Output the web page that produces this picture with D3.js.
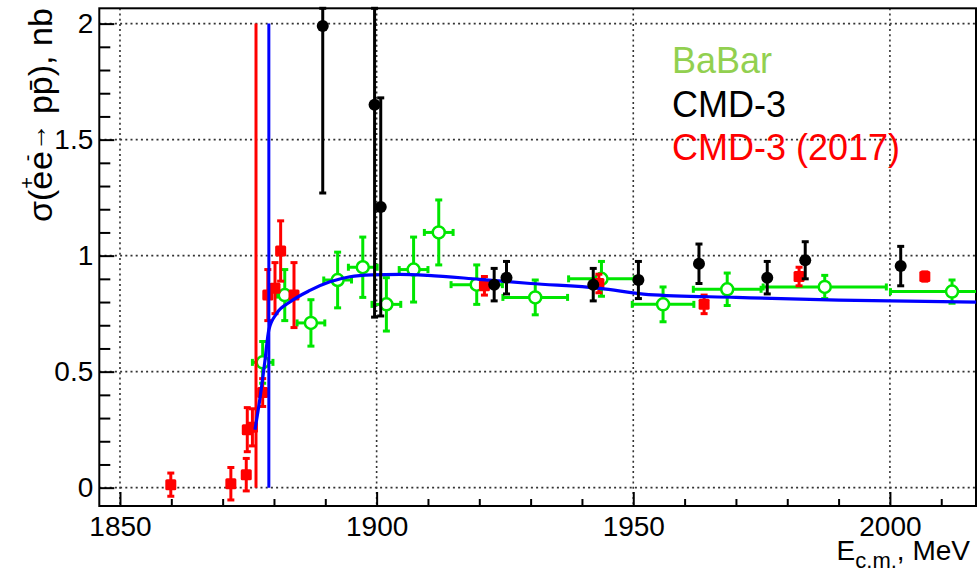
<!DOCTYPE html>
<html>
<head>
<meta charset="utf-8">
<script src="https://cdn.jsdelivr.net/npm/d3@7"></script>
<style>
  body { margin: 0; background: #fff; }
  svg { display: block; font-family: "Liberation Sans", Arial, sans-serif; }
</style>
</head>
<body>
<svg id="chart" width="979" height="574"></svg>
<script>
// BaBar: energy, cross section, x error, y error
const babarE   = [1877.8, 1882.1, 1887.2, 1892.4, 1897.3, 1901.9, 1907.2, 1912.1, 1919.5, 1930.9, 1943.8, 1955.8, 1968.3, 1987.3, 2012.1];
const babarS   = [0.54, 0.83, 0.71, 0.895, 0.95, 0.79, 0.94, 1.10, 0.875, 0.82, 0.90, 0.79, 0.855, 0.865, 0.845];
const babarDE  = [2, 1.5, 2.7, 2.7, 2.8, 2.8, 2.8, 2.8, 5, 6.3, 6.4, 6, 6.6, 12, 12];
const babarDS  = [0.09, 0.11, 0.10, 0.12, 0.13, 0.115, 0.14, 0.14, 0.085, 0.075, 0.075, 0.075, 0.07, 0.05, 0.05];

// CMD-3
const cmdE  = [1889.5, 1899.6, 1900.8, 1922.9, 1925.3, 1942.2, 1951.0, 1962.8, 1976.1, 1983.5, 2002.1];
const cmdS  = [1.99, 1.65, 1.21, 0.875, 0.905, 0.875, 0.895, 0.965, 0.905, 0.98, 0.955];
const cmdDS = [0.72, 0.915, 0.47, 0.07, 0.07, 0.07, 0.08, 0.085, 0.07, 0.08, 0.085];

// CMD-3 (2017)
const cmd17E  = [1859.9, 1871.6, 1874.6, 1874.8, 1875.8, 1877.8, 1878.8, 1880.2, 1881.3, 1883.9, 1921.0, 1943.3, 1963.8, 1982.3, 2006.8];
const cmd17S  = [0.013, 0.017, 0.056, 0.25, 0.26, 0.41, 0.83, 0.86, 1.02, 0.83, 0.87, 0.88, 0.79, 0.91, 0.91];
const cmd17DS = [0.05, 0.07, 0.07, 0.095, 0.08, 0.06, 0.11, 0.11, 0.13, 0.14, 0.04, 0.04, 0.04, 0.04, 0.02];

// fit curve
const fitE = [1876.3, 1877.3, 1878.2, 1879.0, 1880.5, 1883.1, 1887.0, 1890.9, 1894.8, 1899, 1904.5, 1910, 1920, 1930, 1943.5, 1953, 1970, 1990, 2016.8];
const fitS = [0.25, 0.39, 0.54, 0.68, 0.75, 0.80, 0.85, 0.887, 0.909, 0.917, 0.919, 0.915, 0.898, 0.88, 0.859, 0.832, 0.82, 0.808, 0.80];

// thresholds (vertical lines)
const thrE = [1876.5, 1879.0];
const thrColors = ["#ff0000", "#0000ff"];

const xTicks = [1850, 1900, 1950, 2000];
const xMinor = [1860, 1870, 1880, 1890, 1910, 1920, 1930, 1940, 1960, 1970, 1980, 1990, 2010];
const yTicks = [0, 0.5, 1, 1.5, 2];
const yTickLabels = ["0", "0.5", "1", "1.5", "2"];
const yMinor = [0.1, 0.2, 0.3, 0.4, 0.6, 0.7, 0.8, 0.9, 1.1, 1.2, 1.3, 1.4, 1.6, 1.7, 1.8, 1.9];

const legendNames = ["BaBar", "CMD-3", "CMD-3 (2017)"];
const legendColors = ["#92d050", "#000000", "#ff0000"];

const pLeft = 99.3, pRight = 976, pTop = 8.3, pBottom = 506;
const svg = d3.select("#chart");

const x = d3.scaleLinear().domain([1845.97, 2016.77]).range([pLeft, pRight]);
const y = d3.scaleLinear().domain([-0.079, 2.066]).range([pBottom, pTop]);
const yc = v => y(Math.max(-0.079, Math.min(2.066, v)));

// grid
const grid = svg.append("g").attr("stroke", "#333").attr("stroke-width", 1.6).attr("stroke-dasharray", "2,3.2");
grid.selectAll(".gx").data(xTicks).join("line")
    .attr("x1", d => x(d)).attr("x2", d => x(d)).attr("y1", pTop).attr("y2", pBottom);
grid.selectAll(".gy").data(yTicks).join("line")
    .attr("x1", pLeft).attr("x2", pRight).attr("y1", d => y(d)).attr("y2", d => y(d));

// axes
svg.append("g").attr("transform", `translate(0,${pBottom})`)
    .call(d3.axisBottom(x).tickValues(xTicks).tickSize(-14).tickPadding(10).tickFormat(d3.format("d")));
svg.append("g").attr("transform", `translate(0,${pBottom})`)
    .call(d3.axisBottom(x).tickValues(xMinor).tickSize(-7).tickFormat(""));
svg.append("g").attr("transform", `translate(${pLeft},0)`)
    .call(d3.axisLeft(y).tickValues(yTicks).tickSize(-15).tickPadding(6).tickFormat((d, i) => yTickLabels[i]));
svg.append("g").attr("transform", `translate(${pLeft},0)`)
    .call(d3.axisLeft(y).tickValues(yMinor).tickSize(-11).tickFormat(""));
svg.selectAll(".domain").remove();
svg.selectAll(".tick line").attr("stroke", "#000").attr("stroke-width", 2);
svg.selectAll(".tick text").attr("font-size", 28).attr("font-family", "Liberation Sans, Arial, sans-serif").attr("fill", "#000");

// frame
svg.append("rect").attr("x", pLeft).attr("y", pTop).attr("width", pRight - pLeft).attr("height", pBottom - pTop)
    .attr("fill", "none").attr("stroke", "#000").attr("stroke-width", 2);

const cap = 3.5;

// BaBar
const green = "#00e600";
const gb = svg.append("g").attr("stroke", green).attr("stroke-width", 3);
babarE.forEach((e, i) => {
    const cx = x(e), cy = y(babarS[i]);
    const x0 = x(e - babarDE[i]), x1 = Math.min(pRight, x(e + babarDE[i]));
    const y0 = yc(babarS[i] - babarDS[i]), y1 = yc(babarS[i] + babarDS[i]);
    gb.append("line").attr("x1", x0).attr("x2", x1).attr("y1", cy).attr("y2", cy);
    gb.append("line").attr("x1", cx).attr("x2", cx).attr("y1", y0).attr("y2", y1);
    gb.append("line").attr("x1", x0).attr("x2", x0).attr("y1", cy - cap).attr("y2", cy + cap);
    if (x1 < pRight) gb.append("line").attr("x1", x1).attr("x2", x1).attr("y1", cy - cap).attr("y2", cy + cap);
    gb.append("line").attr("x1", cx - cap).attr("x2", cx + cap).attr("y1", y0).attr("y2", y0);
    gb.append("line").attr("x1", cx - cap).attr("x2", cx + cap).attr("y1", y1).attr("y2", y1);
    gb.append("circle").attr("cx", cx).attr("cy", cy).attr("r", 6).attr("fill", "#fff").attr("stroke-width", 2.5);
});

// CMD-3 (2017)
const rb = svg.append("g").attr("stroke", "#ff0000").attr("stroke-width", 3);
cmd17E.forEach((e, i) => {
    const cx = x(e), cy = y(cmd17S[i]);
    const y0 = yc(cmd17S[i] - cmd17DS[i]), y1 = yc(cmd17S[i] + cmd17DS[i]);
    rb.append("line").attr("x1", cx).attr("x2", cx).attr("y1", y0).attr("y2", y1);
    rb.append("line").attr("x1", cx - cap).attr("x2", cx + cap).attr("y1", y0).attr("y2", y0);
    rb.append("line").attr("x1", cx - cap).attr("x2", cx + cap).attr("y1", y1).attr("y2", y1);
    rb.append("rect").attr("x", cx - 5.5).attr("y", cy - 5.5).attr("width", 11).attr("height", 11)
        .attr("rx", 1.5).attr("fill", "#ff0000").attr("stroke", "none");
});

// threshold lines
thrE.forEach((e, i) => {
    svg.append("line").attr("x1", x(e)).attr("x2", x(e)).attr("y1", y(0)).attr("y2", y(2))
        .attr("stroke", thrColors[i]).attr("stroke-width", 3);
});

// fit curve
const line = d3.line().x(d => x(d[0])).y(d => y(d[1])).curve(d3.curveMonotoneX);
svg.append("path").datum(fitE.map((e, i) => [e, fitS[i]]))
    .attr("fill", "none").attr("stroke", "#0000ff").attr("stroke-width", 3.2).attr("d", line);

// CMD-3
const kb = svg.append("g").attr("stroke", "#000").attr("stroke-width", 3);
cmdE.forEach((e, i) => {
    const cx = x(e), cy = y(cmdS[i]);
    const y0 = yc(cmdS[i] - cmdDS[i]), y1 = yc(cmdS[i] + cmdDS[i]);
    kb.append("line").attr("x1", cx).attr("x2", cx).attr("y1", y0).attr("y2", y1);
    kb.append("line").attr("x1", cx - cap).attr("x2", cx + cap).attr("y1", y0).attr("y2", y0);
    kb.append("line").attr("x1", cx - cap).attr("x2", cx + cap).attr("y1", y1).attr("y2", y1);
    kb.append("circle").attr("cx", cx).attr("cy", cy).attr("r", 6).attr("fill", "#000").attr("stroke", "none");
});

// legend
legendNames.forEach((name, i) => {
    svg.append("text").attr("x", 672).attr("y", 73 + i * 43.5)
        .attr("font-size", 36).attr("fill", legendColors[i]).text(name);
});

// axis titles
const xt = svg.append("text").attr("x", 970).attr("y", 560).attr("text-anchor", "end").attr("font-size", 28);
xt.append("tspan").text("E");
xt.append("tspan").attr("font-size", 22).attr("dy", 8).text("c.m.");
xt.append("tspan").attr("dy", -8).text(", MeV");

const yt = svg.append("text").attr("transform", "translate(52,222) rotate(-90)").attr("font-size", 34);
yt.append("tspan").text("σ(e");
yt.append("tspan").attr("font-size", 20).attr("dx", -18).attr("dy", -18).text("+");
yt.append("tspan").attr("dx", 7).attr("dy", 18).text("e");
yt.append("tspan").attr("font-size", 20).attr("dx", -10).attr("dy", -18).text("-");
yt.append("tspan").attr("font-size", 28).attr("dx", 3).attr("dy", 12).text("→");
yt.append("tspan").attr("dy", 6).text(" pp̄), nb");
</script>
</body>
</html>
